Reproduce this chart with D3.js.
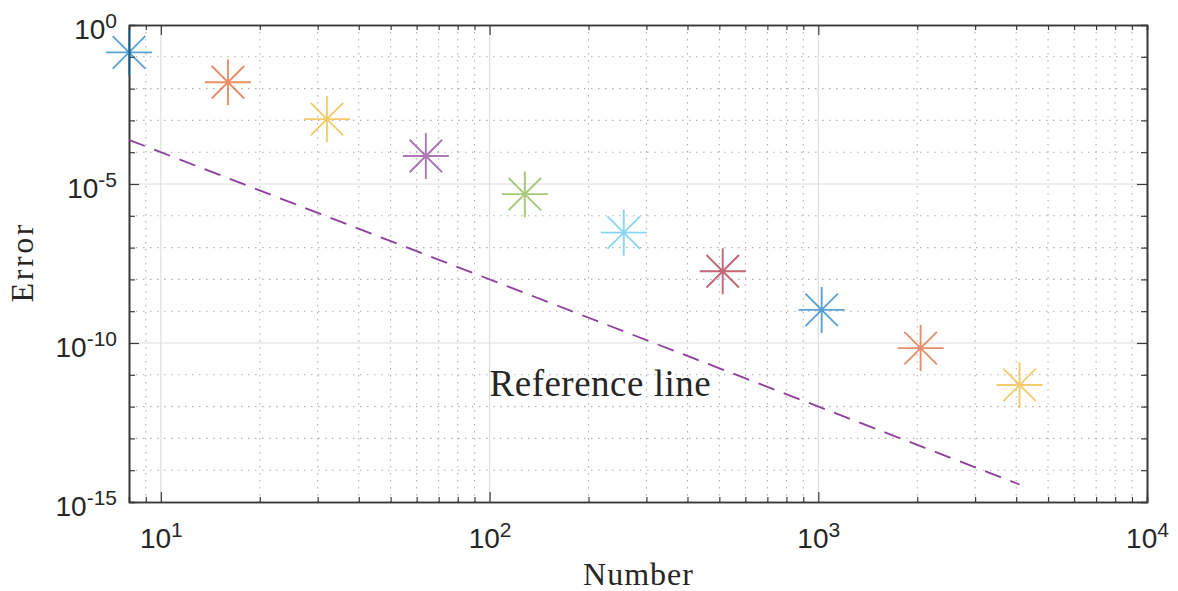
<!DOCTYPE html>
<html>
<head>
<meta charset="utf-8">
<script src="https://cdn.jsdelivr.net/npm/d3@7"></script>
<style>
  body { margin: 0; background: #fff; }
  .tick-lbl { font-family: "Liberation Sans", Arial, sans-serif; font-size: 28px; fill: #262626; }
  .ax-title { font-family: "Liberation Serif", "Times New Roman", serif; fill: #262626; }
</style>
</head>
<body>
<div class="mainContent"></div>
<script>
const w = 1178;
const h = 591;
const margin = {top: 25, right: 31, bottom: 89, left: 129};

// data
const nValues = [8, 16, 32, 64, 128, 256, 512, 1024, 2048, 4096];
const errValues = [0.138, 0.0158, 1.1e-3, 7.6e-5, 4.8e-6, 2.95e-7, 1.8e-8, 1.1e-9, 6.9e-11, 4.8e-12];
const refValues = [2.44e-4, 1.53e-5, 9.54e-7, 5.96e-8, 3.73e-9, 2.33e-10, 1.46e-11, 9.09e-13, 5.68e-14, 3.55e-15];
const markerColors = ['#0072BD', '#D95319', '#EDB120', '#7E2F8E', '#77AC30', '#4DBEEE', '#A2142F', '#0072BD', '#D95319', '#EDB120'];

const xTickValues = [10, 100, 1000, 10000];
const xTickExps = ['1', '2', '3', '4'];
const yTickValues = [1, 1e-5, 1e-10, 1e-15];
const yTickExps = ['0', '-5', '-10', '-15'];
const yMinorExps = [-14, -13, -12, -11, -9, -8, -7, -6, -4, -3, -2, -1];

const refLabel = {x: 100, y: 5.5e-12, text: 'Reference line'};

const innerW = w - margin.left - margin.right;
const innerH = h - margin.top - margin.bottom;

const xScale = d3.scaleLog().domain([8, 10000]).range([0, innerW]);
const yScale = d3.scaleLog().domain([1e-15, 1]).range([innerH, 0]);

const xMinor = xScale.ticks().filter(d => d > 8 && !xTickValues.includes(d));
const yMinor = yMinorExps.map(e => Math.pow(10, e));

const svg = d3.select('.mainContent')
    .append('svg')
    .attr('width', w)
    .attr('height', h);

const g = svg.append('g')
    .attr('transform', `translate(${margin.left},${margin.top})`);

// minor grid (dotted)
g.append('g').selectAll('line.xminor')
    .data(xMinor).enter().append('line')
    .attr('x1', d => xScale(d)).attr('x2', d => xScale(d))
    .attr('y1', 0).attr('y2', innerH)
    .attr('stroke', '#b0b0b0').attr('stroke-width', 1.1)
    .attr('stroke-dasharray', '1.5,5.5');
g.append('g').selectAll('line.yminor')
    .data(yMinor).enter().append('line')
    .attr('x1', 0).attr('x2', innerW)
    .attr('y1', d => yScale(d)).attr('y2', d => yScale(d))
    .attr('stroke', '#b0b0b0').attr('stroke-width', 1.1)
    .attr('stroke-dasharray', '1.5,5.5');

// major grid (solid)
g.append('g').selectAll('line')
    .data(xTickValues.slice(0, 3)).enter().append('line')
    .attr('x1', d => xScale(d)).attr('x2', d => xScale(d))
    .attr('y1', 0).attr('y2', innerH)
    .attr('stroke', '#dedede').attr('stroke-width', 1.2);
g.append('g').selectAll('line')
    .data(yTickValues.slice(1, 3)).enter().append('line')
    .attr('x1', 0).attr('x2', innerW)
    .attr('y1', d => yScale(d)).attr('y2', d => yScale(d))
    .attr('stroke', '#dedede').attr('stroke-width', 1.2);

// axes: ticks point inwards, box on all four sides
function styleAxis(sel) {
    sel.select('.domain').attr('stroke', '#3a3a3a').attr('stroke-width', 1.6);
    sel.selectAll('.tick line').attr('stroke', '#3a3a3a').attr('stroke-width', 1.2);
}

const xAxis = d3.axisBottom(xScale).tickValues(xTickValues).tickSizeInner(-10).tickSizeOuter(0).tickPadding(0);
const xAxisTop = d3.axisTop(xScale).tickValues(xTickValues).tickSizeInner(-10).tickSizeOuter(0).tickFormat('');
const xMinorAxis = d3.axisBottom(xScale).tickValues(xMinor).tickSize(-5).tickFormat('');
const xMinorTop = d3.axisTop(xScale).tickValues(xMinor).tickSize(-5).tickFormat('');
const yAxis = d3.axisLeft(yScale).tickValues(yTickValues).tickSizeInner(-10).tickSizeOuter(0).tickPadding(0);
const yAxisRight = d3.axisRight(yScale).tickValues(yTickValues).tickSizeInner(-10).tickSizeOuter(0).tickFormat('');
const yMinorAxis = d3.axisLeft(yScale).tickValues(yMinor).tickSize(-6).tickFormat('');
const yMinorRight = d3.axisRight(yScale).tickValues(yMinor).tickSize(-6).tickFormat('');

const gx = g.append('g').attr('transform', `translate(0,${innerH})`).call(xAxis).call(styleAxis);
g.append('g').attr('transform', `translate(0,${innerH})`).call(xMinorAxis).call(styleAxis);
g.append('g').call(xAxisTop).call(styleAxis);
g.append('g').call(xMinorTop).call(styleAxis);
const gy = g.append('g').call(yAxis).call(styleAxis);
g.append('g').call(yMinorAxis).call(styleAxis);
g.append('g').attr('transform', `translate(${innerW},0)`).call(yAxisRight).call(styleAxis);
g.append('g').attr('transform', `translate(${innerW},0)`).call(yMinorRight).call(styleAxis);

// tick labels as 10 with superscript exponent
gx.selectAll('.tick text')
    .attr('class', 'tick-lbl')
    .attr('font-size', null).attr('font-family', null)
    .attr('y', 46).attr('dy', 0)
    .text(null)
    .each(function(d, i) {
        const t = d3.select(this);
        t.append('tspan').text('10');
        t.append('tspan').attr('dy', -11).attr('font-size', 21).text(xTickExps[i]);
    });
gy.selectAll('.tick text')
    .attr('class', 'tick-lbl')
    .attr('font-size', null).attr('font-family', null)
    .attr('x', -12).attr('y', 13).attr('dy', 0)
    .text(null)
    .each(function(d, i) {
        const t = d3.select(this);
        t.append('tspan').text('10');
        t.append('tspan').attr('dy', -11).attr('font-size', 21).text(yTickExps[i]);
    });

// reference line
const refLine = d3.line()
    .x((d, i) => xScale(nValues[i]))
    .y(d => yScale(d));
g.append('path')
    .datum(refValues)
    .attr('d', refLine)
    .attr('fill', 'none')
    .attr('stroke', '#8E3F9E')
    .attr('stroke-width', 1.8)
    .attr('stroke-dasharray', '17,10');

// asterisk markers
const r = 23;
const star = [0, 45, 90, 135].map(a => {
    const rad = a * Math.PI / 180;
    const dx = r * Math.cos(rad), dy = r * Math.sin(rad);
    return `M${-dx},${-dy}L${dx},${dy}`;
}).join('');

g.selectAll('path.marker')
    .data(errValues)
    .enter()
    .append('path')
    .attr('class', 'marker')
    .attr('transform', (d, i) => `translate(${xScale(nValues[i])},${yScale(d)})`)
    .attr('d', star)
    .attr('fill', 'none')
    .attr('stroke', (d, i) => markerColors[i])
    .attr('stroke-opacity', 0.65)
    .attr('stroke-width', 1.9);

// annotation
g.append('text')
    .attr('class', 'ax-title')
    .attr('x', xScale(refLabel.x))
    .attr('y', yScale(refLabel.y))
    .attr('dy', '0.35em')
    .attr('font-size', 37)
    .attr('textLength', 221)
    .attr('fill', '#000')
    .text(refLabel.text);

// axis titles
svg.append('text')
    .attr('class', 'ax-title')
    .attr('x', margin.left + innerW / 2)
    .attr('y', 585)
    .attr('text-anchor', 'middle')
    .attr('font-size', 32)
    .attr('textLength', 110)
    .text('Number');
svg.append('text')
    .attr('class', 'ax-title')
    .attr('transform', `translate(33,${margin.top + innerH / 2}) rotate(-90)`)
    .attr('text-anchor', 'middle')
    .attr('font-size', 32)
    .attr('textLength', 78)
    .text('Error');
</script>
</body>
</html>
